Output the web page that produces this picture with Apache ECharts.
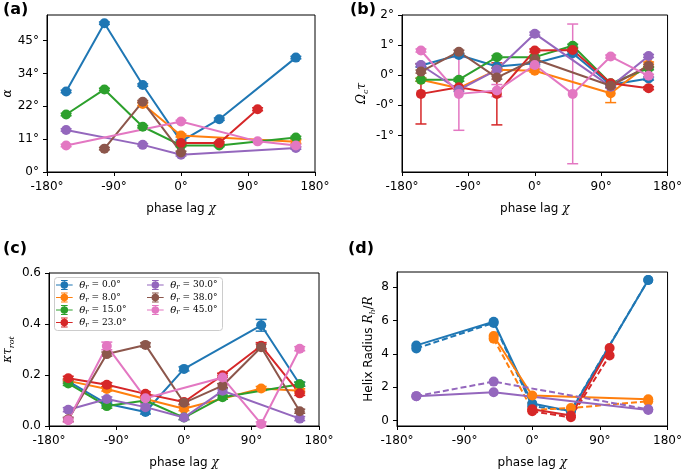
<!DOCTYPE html>
<html><head><meta charset="utf-8">
<script src="https://cdn.jsdelivr.net/npm/echarts@6/dist/echarts.min.js"></script>
<style>html,body{margin:0;padding:0;background:#fff}#c{width:685px;height:470px}</style>
</head><body><div id="c"></div>
<script>
// ---------- DATA ----------
const chi = [-154.3, -102.9, -51.4, 0, 51.4, 102.9, 154.3];
const thetaR = ['0.0', '8.0', '15.0', '23.0', '30.0', '38.0', '45.0'];
const colors = ['#1f77b4', '#ff7f0e', '#2ca02c', '#d62728', '#9467bd', '#8c564b', '#e377c2'];
const xTicks = [-180, -90, 0, 90, 180];

// (a) alpha in degrees, one row per theta_r
const aVals = [
  [27.6, 51.0, 29.8, 10.5, 18.1, null, 39.2],
  [null, null, 23.3, 12.5, null, null, 10.4],
  [19.7, 28.3, 15.5, 9.1, 9.1, null, 11.8],
  [null, null, null, 9.9, 9.9, 21.5, null],
  [14.4, null, 9.3, 5.9, null, null, 8.2],
  [null, 8.0, 24.1, 6.7, null, null, null],
  [9.1, null, null, 17.3, null, 10.5, 9.1]
];
const aErr = [
  [0.4, 0.4, 0.4, 0.4, 0.4, 0.4, 0.4],
  [0.4, 0.4, 0.6, 0.5, 0.4, 0.4, 0.6],
  [0.4, 0.4, 0.4, 0.4, 0.4, 0.4, 0.4],
  [0.4, 0.4, 0.4, 0.4, 0.4, 0.5, 0.4],
  [0.4, 0.4, 0.4, 0.4, 0.4, 0.4, 0.4],
  [0.4, 0.4, 0.4, 0.4, 0.4, 0.4, 0.4],
  [0.4, 0.4, 0.4, 0.4, 0.4, 0.4, 0.4]
];
const aYTicks = [0, 11.25, 22.5, 33.75, 45];
const aYLabels = ['0°', '11°', '22°', '34°', '45°'];

// (b) Omega_c tau (in tick units of the reference axis)
const bVals = [
  [0.32, 0.67, 0.29, 0.40, 0.73, -0.32, -0.11],
  [-0.15, -0.43, 0.18, 0.15, null, -0.60, 0.36],
  [-0.15, -0.15, 0.60, 0.60, 0.98, -0.27, 0.23],
  [-0.62, -0.40, -0.62, 0.82, 0.84, -0.27, -0.43],
  [0.34, -0.49, 0.18, 1.38, null, -0.38, 0.64],
  [0.12, 0.78, -0.08, 0.53, null, -0.35, 0.31],
  [0.82, -0.62, -0.51, 0.34, -0.62, 0.62, -0.02]
];
const bErr = [
  [0.05, 0.05, 0.05, 0.05, 0.05, 0.08, 0.05],
  [0.05, 0.05, 0.05, 0.05, 0.05, 0.31, 0.08],
  [0.05, 0.05, 0.05, 0.05, 0.05, 0.05, 0.05],
  [1.00, 0.05, 1.03, 0.05, 0.05, 0.05, 0.05],
  [0.05, 0.05, 0.05, 0.05, 0.05, 0.05, 0.05],
  [0.05, 0.05, 0.05, 0.05, 0.05, 0.05, 0.05],
  [0.05, 1.21, 0.20, 0.05, 2.32, 0.05, 0.05]
];
const bYTicks = [-2, -1, 0, 1, 2];
const bYLabels = ['-1°', '-0°', '0°', '1°', '2°'];

// (c) kappa tau_rot
const cVals = [
  [0.175, 0.087, 0.055, 0.224, null, 0.395, 0.164],
  [0.177, 0.145, 0.106, 0.068, null, 0.147, 0.138],
  [0.167, 0.078, 0.100, 0.033, 0.113, null, 0.164],
  [0.187, 0.162, 0.126, 0.094, 0.199, 0.315, 0.128],
  [0.064, 0.106, 0.074, 0.033, 0.138, null, 0.029],
  [0.026, 0.282, 0.318, 0.091, 0.158, 0.309, 0.058],
  [0.023, 0.314, 0.109, null, 0.190, 0.008, 0.303]
];
const cErr = [
  [0.008, 0.008, 0.008, 0.008, 0.008, 0.023, 0.008],
  [0.008, 0.008, 0.008, 0.008, 0.008, 0.008, 0.008],
  [0.008, 0.008, 0.008, 0.008, 0.008, 0.008, 0.008],
  [0.008, 0.008, 0.008, 0.008, 0.008, 0.012, 0.008],
  [0.008, 0.008, 0.008, 0.008, 0.008, 0.008, 0.008],
  [0.008, 0.008, 0.008, 0.008, 0.008, 0.012, 0.008],
  [0.008, 0.015, 0.020, 0.008, 0.008, 0.008, 0.008]
];
const cYTicks = [0, 0.2, 0.4, 0.6];

// (d) helix radius R_h/R : solid and dashed estimates for 4 theta_r
const dColorIdx = [0, 1, 3, 4];
const dSolid = [
  [4.50, null, 5.92, 1.02, 0.55, null, 8.42],
  [null, null, 5.06, 1.50, null, null, 1.27],
  [null, null, null, 0.67, 0.30, 4.35, null],
  [1.46, null, 1.69, null, null, null, 0.63]
];
const dDashed = [
  [4.32, null, 5.85, 0.85, 0.60, null, 8.42],
  [null, null, 4.90, 0.63, 0.75, null, 1.15],
  [null, null, null, 0.55, 0.19, 3.90, null],
  [1.46, null, 2.33, null, null, null, 0.67]
];
const dYTicks = [0, 2, 4, 6, 8];

// ---------- CHART ----------
const chart = echarts.init(document.getElementById('c'), null, {renderer: 'canvas'});
const FONT = 'DejaVu Sans';
const MATH = 'DejaVu Serif';
const richMath = {
  i: {fontFamily: MATH, fontStyle: 'italic', fontSize: 12, lineHeight: 16, color: '#000'},
  s: {fontFamily: MATH, fontStyle: 'italic', fontSize: 8, lineHeight: 8, verticalAlign: 'bottom', color: '#000'},
  n: {fontFamily: FONT, fontSize: 12, lineHeight: 16, color: '#000'}
};

function pts(vals, errs) {
  const out = [];
  vals.forEach((v, k) => { if (v !== null) out.push([chi[k], v, errs ? errs[k] : 0]); });
  return out;
}
function lookup(ticks, labels) {
  return v => { for (let k = 0; k < ticks.length; k++) if (Math.abs(ticks[k] - v) < 1e-6) return labels[k]; return ''; };
}

const grids = [
  {left: 47, top: 15, width: 268, height: 157},
  {left: 402, top: 15, width: 270, height: 157},
  {left: 49, top: 273, width: 270, height: 156},
  {left: 397, top: 272, width: 271, height: 160}
].map(g => Object.assign(g, {show: true, borderColor: '#000', borderWidth: 1, backgroundColor: 'transparent', containLabel: false}));

const xAxes = grids.map((g, i) => ({
  type: 'value', gridIndex: i, min: -180, max: 180, interval: 90,
  axisLine: {show: true, onZero: false, lineStyle: {color: '#000', width: 1}},
  axisTick: {show: true, length: 4, lineStyle: {color: '#000'}},
  axisLabel: {color: '#000', fontSize: 12, fontFamily: FONT, margin: 9, formatter: v => v + '°'},
  splitLine: {show: false},
  name: '{n|phase lag }{i|χ}', nameLocation: 'middle', nameGap: 29,
  nameTextStyle: {color: '#000', fontSize: 12, fontFamily: FONT, rich: richMath}
}));

function yAxis(i, min, max, ticks, fmt, name, gap) {
  return {
    type: 'value', gridIndex: i, min: min, max: max,
    axisLine: {show: true, onZero: false, lineStyle: {color: '#000', width: 1}},
    axisTick: {show: true, length: 4, lineStyle: {color: '#000'}, customValues: ticks},
    axisLabel: {color: '#000', fontSize: 12, fontFamily: FONT, margin: 8, customValues: ticks, formatter: fmt},
    splitLine: {show: false},
    name: name, nameLocation: 'middle', nameGap: gap, nameRotate: 90,
    nameTextStyle: {color: '#000', fontSize: 12, fontFamily: FONT, rich: richMath}
  };
}
const yAxes = [
  yAxis(0, 0, 53.8, aYTicks, lookup(aYTicks, aYLabels), '{i|α}', 27),
  yAxis(1, -3.215, 2, bYTicks, lookup(bYTicks, bYLabels), '{i|Ω}{s|c}{i|τ}', 32),
  yAxis(2, 0, 0.6, cYTicks, v => v.toFixed(1), '{i|κτ}{s|rot}', 33),
  yAxis(3, -0.33, 8.9, dYTicks, v => String(v), '{n|Helix Radius }{i|R}{s|h}{n|/}{i|R}', 20)
];

function errSeries(i, data, color) {
  return {
    type: 'custom', xAxisIndex: i, yAxisIndex: i, data: data, silent: true, animation: false,
    encode: {x: 0, y: 1}, z: 2,
    renderItem: (params, api) => {
      const x = api.value(0), y = api.value(1), e = api.value(2);
      const t = api.coord([x, y + e]), b = api.coord([x, y - e]);
      const hw = 5.5;
      const st = {stroke: color, lineWidth: 1.5, fill: null};
      return {type: 'group', children: [
        {type: 'line', shape: {x1: t[0], y1: t[1], x2: b[0], y2: b[1]}, style: st},
        {type: 'line', shape: {x1: t[0] - hw, y1: t[1], x2: t[0] + hw, y2: t[1]}, style: st},
        {type: 'line', shape: {x1: b[0] - hw, y1: b[1], x2: b[0] + hw, y2: b[1]}, style: st}
      ]};
    }
  };
}
function lineSeries(i, data, color, name, dashed) {
  const s = {
    type: 'line', xAxisIndex: i, yAxisIndex: i, data: data.map(p => [p[0], p[1]]),
    symbol: 'circle', symbolSize: 10, showSymbol: true, animation: false, z: 2,
    itemStyle: {color: color, opacity: 1},
    lineStyle: {color: color, width: 2, type: dashed ? [6, 3] : 'solid'},
    emphasis: {disabled: true}
  };
  if (name) s.name = name;
  return s;
}

const series = [];
const legendNames = thetaR.map(t => 'θr' + t);
[[aVals, aErr], [bVals, bErr], [cVals, cErr]].forEach(([vals, errs], p) => {
  vals.forEach((row, k) => {
    const d = pts(row, errs[k]);
    series.push(errSeries(p, d, colors[k]));
    series.push(lineSeries(p, d, colors[k], p === 2 ? legendNames[k] : null, false));
  });
});
dColorIdx.forEach((ci, k) => {
  series.push(lineSeries(3, pts(dDashed[k]), colors[ci], null, true));
  series.push(lineSeries(3, pts(dSolid[k]), colors[ci], null, false));
});

const errIcon = 'path://M0,5.3h20v1.4h-20z M10,1.5a4.5,4.5 0 1,1 -0.01,0z M9.4,0h1.2v12h-1.2z M6,0h8v1.2h-8z M6,10.8h8v1.2h-8z';
const legendText = {
  color: '#000', fontSize: 9, fontFamily: MATH,
  rich: {
    i: {fontFamily: MATH, fontStyle: 'italic', fontSize: 10, lineHeight: 12},
    s: {fontFamily: MATH, fontStyle: 'italic', fontSize: 7, lineHeight: 7, verticalAlign: 'bottom'},
    n: {fontFamily: MATH, fontSize: 9, lineHeight: 12}
  }
};
function legendFmt(name) { return '{i|θ}{s|r}{n| = ' + name.slice(2) + '°}'; }
function legend(names, left) {
  return {
    data: names.map(n => ({name: n, icon: errIcon})), orient: 'vertical', left: left, top: 280,
    itemWidth: 20, itemHeight: 10, itemGap: 1.5, padding: 0, z: 60,
    textStyle: legendText, formatter: legendFmt, selectedMode: false
  };
}

chart.setOption({
  backgroundColor: '#fff',
  animation: false,
  grid: grids,
  xAxis: xAxes,
  yAxis: yAxes,
  legend: [legend(legendNames.slice(0, 4), 56), legend(legendNames.slice(4), 147)],
  graphic: [
    {type: 'rect', left: 54, top: 277, z: 50, shape: {width: 168, height: 53, r: 3}, style: {fill: 'rgba(255,255,255,0.8)', stroke: '#cccccc', lineWidth: 1}},
    {type: 'text', left: 3, top: 2, style: {text: '(a)', font: 'bold 16px "DejaVu Sans"', fill: '#000'}},
    {type: 'text', left: 350, top: 2, style: {text: '(b)', font: 'bold 16px "DejaVu Sans"', fill: '#000'}},
    {type: 'text', left: 3, top: 241, style: {text: '(c)', font: 'bold 16px "DejaVu Sans"', fill: '#000'}},
    {type: 'text', left: 348, top: 241, style: {text: '(d)', font: 'bold 16px "DejaVu Sans"', fill: '#000'}}
  ],
  series: series
});
</script></body></html>
